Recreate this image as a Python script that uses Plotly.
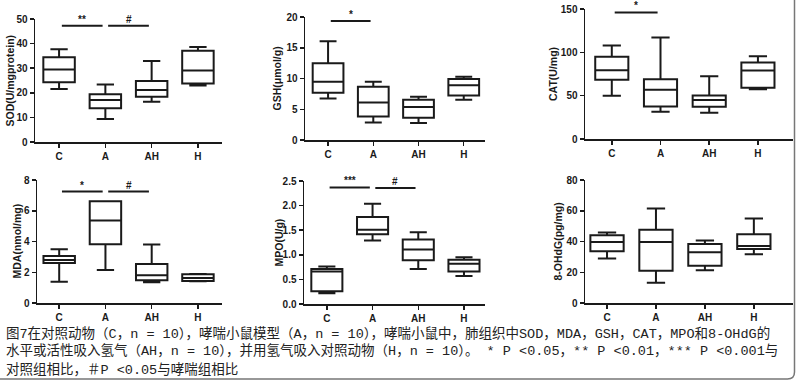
import plotly.graph_objects as go

W, H = 796, 381
cats = ["C", "A", "AH", "H"]

# ---- data (min, Q1, median, Q3, max) ----
sod_min = [21.5, 9.3, 16.4, 23.0]
sod_q1 = [24.3, 13.7, 18.4, 23.8]
sod_med = [29.5, 17.1, 21.1, 29.1]
sod_q3 = [34.5, 19.4, 24.8, 37.1]
sod_max = [37.7, 23.4, 32.9, 38.6]

gsh_min = [6.76, 2.86, 2.76, 6.54]
gsh_q1 = [7.7, 3.84, 3.62, 7.24]
gsh_med = [9.46, 6.1, 5.35, 8.9]
gsh_q3 = [12.5, 8.65, 6.54, 9.9]
gsh_max = [16.05, 9.46, 7.03, 10.27]

cat_min = [49.9, 31.5, 30.3, 57.5]
cat_q1 = [68.3, 37.6, 37.2, 59.0]
cat_med = [79.4, 56.8, 44.9, 79.0]
cat_q3 = [95.0, 69.0, 50.2, 88.2]
cat_max = [108.0, 117.0, 72.5, 95.5]

mda_min = [1.39, 2.15, 1.35, 1.41]
mda_q1 = [2.60, 3.82, 1.48, 1.43]
mda_med = [2.80, 5.36, 1.80, 1.63]
mda_q3 = [3.06, 6.62, 2.54, 1.87]
mda_max = [3.49, 6.62, 3.80, 1.89]

mpo_min = [0.22, 1.29, 0.71, 0.57]
mpo_q1 = [0.26, 1.42, 0.89, 0.66]
mpo_med = [0.66, 1.51, 1.11, 0.82]
mpo_q3 = [0.71, 1.77, 1.31, 0.90]
mpo_max = [0.76, 2.04, 1.46, 0.95]

ohdg_min = [28.9, 13.2, 21.3, 31.7]
ohdg_q1 = [33.6, 21.0, 24.3, 35.1]
ohdg_med = [39.7, 39.7, 33.0, 37.1]
ohdg_q3 = [44.0, 47.7, 38.4, 44.7]
ohdg_max = [45.8, 61.4, 40.6, 54.9]

# significance brackets: (from index, to index, level, label)
sod_sig = [(0, 1, 47.3, "**"), (1, 2, 47.3, "#")]
gsh_sig = [(0, 1, 19.35, "*")]
cat_sig = [(0, 1, 146, "*")]
mda_sig = [(0, 1, 7.25, "*"), (1, 2, 7.25, "#")]
mpo_sig = [(0, 1, 2.37, "***"), (1, 2, 2.36, "#")]
ohdg_sig = []

y_titles = ["SOD(U/mgprotein)", "GSH(\u03bcmol/g)", "CAT(U/mg)",
            "MDA(nmol/mg)", "MPO(U/g)", "8-OHdG(pg/mg)"]
y_ticks = [[0, 10, 20, 30, 40, 50], [0, 5, 10, 15, 20], [0, 50, 100, 150],
           [0, 2, 4, 6, 8], [0, 0.5, 1.0, 1.5, 2.0, 2.5], [0, 20, 40, 60, 80]]

caption_lines = [
    "图7在对照动物（C，n = 10），哮喘小鼠模型（A，n = 10），哮喘小鼠中，肺组织中SOD，MDA，GSH，CAT，MPO和8-OHdG的",
    "水平或活性吸入氢气（AH，n = 10），并用氢气吸入对照动物（H，n = 10）。 * P <0.05，** P <0.01，*** P <0.001与",
    "对照组相比，＃P <0.05与哮喘组相比",
]

series = [
    (sod_min, sod_q1, sod_med, sod_q3, sod_max, sod_sig),
    (gsh_min, gsh_q1, gsh_med, gsh_q3, gsh_max, gsh_sig),
    (cat_min, cat_q1, cat_med, cat_q3, cat_max, cat_sig),
    (mda_min, mda_q1, mda_med, mda_q3, mda_max, mda_sig),
    (mpo_min, mpo_q1, mpo_med, mpo_q3, mpo_max, mpo_sig),
    (ohdg_min, ohdg_q1, ohdg_med, ohdg_q3, ohdg_max, ohdg_sig),
]

# ---- layout geometry (pixels) ----
geom = [
    dict(xd=(35, 222), yd=(19, 142), xr=(-0.52, 3.52), tx=9),
    dict(xd=(305, 485), yd=(17, 140), xr=(-0.51, 3.47), tx=276),
    dict(xd=(585, 793), yd=(9, 139), xr=(-0.55, 3.72), tx=553),
    dict(xd=(37, 222), yd=(180, 303), xr=(-0.48, 3.52), tx=16),
    dict(xd=(304, 485), yd=(181, 304), xr=(-0.5, 3.46), tx=278),
    dict(xd=(585, 793), yd=(180, 303), xr=(-0.45, 3.8), tx=557),
]

def px(x):
    return x / W

def py(y):
    return 1 - y / H

fig = go.Figure()
annotations = []
shapes = []
ink = "#1a1a1a"
tickfont = dict(family="Liberation Sans, Arial", size=10, color=ink, weight="bold")

for k, ((mn, q1, md, q3, mx, sig), g, title, ticks) in enumerate(zip(series, geom, y_titles, y_ticks)):
    n = k + 1
    xa = "x" if n == 1 else f"x{n}"
    ya = "y" if n == 1 else f"y{n}"
    fig.add_trace(go.Box(
        x=cats, lowerfence=mn, q1=q1, median=md, q3=q3, upperfence=mx,
        xaxis=xa, yaxis=ya, boxpoints=False, width=0.68, whiskerwidth=0.55,
        line=dict(color=ink, width=2), fillcolor="rgba(255,255,255,0)",
        showlegend=False, hoverinfo="skip",
    ))
    xkey = "xaxis" if n == 1 else f"xaxis{n}"
    ykey = "yaxis" if n == 1 else f"yaxis{n}"
    fig.layout[xkey] = dict(
        domain=[px(g["xd"][0]), px(g["xd"][1])], anchor=ya, range=list(g["xr"]),
        type="category", categoryorder="array", categoryarray=cats,
        showline=True, linecolor=ink, linewidth=1.5, ticks="outside",
        ticklen=4, tickwidth=1.5, tickcolor=ink, tickfont=tickfont,
        showgrid=False, zeroline=False, fixedrange=True, automargin=False,
    )
    fmt = ".1f" if n == 5 else "d"
    fig.layout[ykey] = dict(
        domain=[py(g["yd"][1]), py(g["yd"][0])], anchor=xa,
        range=[0, ticks[-1]], tickvals=ticks, tickformat=fmt,
        showline=True, linecolor=ink, linewidth=1.5, ticks="outside",
        ticklen=4, tickwidth=1.5, tickcolor=ink, tickfont=tickfont,
        showgrid=False, zeroline=False, fixedrange=True, automargin=False,
    )
    annotations.append(dict(
        x=px(g["tx"]), y=py((g["yd"][0] + g["yd"][1]) / 2), xref="paper", yref="paper",
        text=title, textangle=-90, showarrow=False, xanchor="center", yanchor="middle",
        font=dict(family="Liberation Sans, Arial", size=10.5, color=ink, weight="bold"),
    ))
    for (i, j, lvl, lab) in sig:
        shapes.append(dict(type="line", xref=xa, yref=ya, x0=i + 0.06, x1=j - 0.06,
                           y0=lvl, y1=lvl, line=dict(color=ink, width=2)))
        annotations.append(dict(x=(i + j) / 2, y=lvl, xref=xa, yref=ya, text=lab,
                                showarrow=False, yanchor="bottom", yshift=-1,
                                font=dict(family="Liberation Sans, Arial", size=10,
                                          color=ink, weight="bold")))

for li, line in enumerate(caption_lines):
    annotations.append(dict(
        x=px(4), y=py(333 + 18 * li), xref="paper", yref="paper", text=line,
        showarrow=False, xanchor="left", yanchor="middle",
        font=dict(family="Liberation Mono, Noto Sans CJK SC", size=13.5, color="#222222"),
    ))

# frame (right + bottom with rounded corner)
shapes.append(dict(
    type="path", xref="paper", yref="paper",
    path=f"M {px(794.5)},{py(0)} L {px(794.5)},{py(372)} Q {px(794.5)},{py(379)} {px(787.5)},{py(379)} L {px(0)},{py(379)}",
    line=dict(color="#777777", width=1.5),
))

fig.update_layout(
    template="none",
    width=W, height=H, margin=dict(l=0, r=0, t=0, b=0, autoexpand=False),
    paper_bgcolor="white", plot_bgcolor="white",
    annotations=annotations, shapes=shapes, showlegend=False,
)

fig.write_html(
    "out.html",
    config={"displayModeBar": False, "staticPlot": True},
    post_script="document.body.style.margin='0px';document.body.style.overflow='hidden';",
)
